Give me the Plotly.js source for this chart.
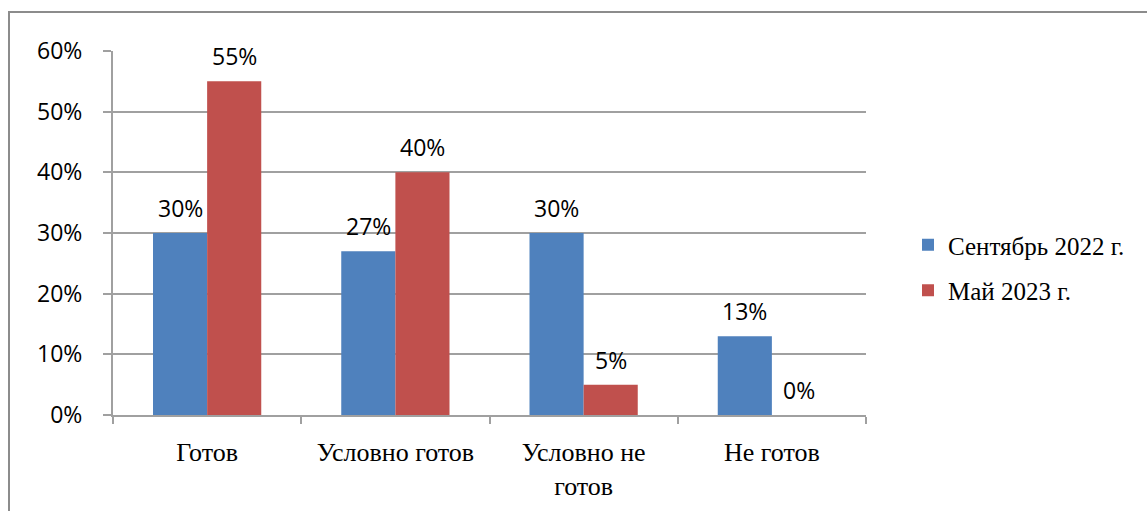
<!DOCTYPE html>
<html>
<head>
<meta charset="utf-8">
<script src="https://cdn.plot.ly/plotly-3.0.1.min.js"></script>
<style>html,body{margin:0;padding:0;background:#fff;}#chart{width:1147px;height:511px;}</style>
</head>
<body>
<div id="chart"></div>
<script>
var categories = ['Готов', 'Условно готов', 'Условно не<br>готов', 'Не готов'];
var seriesNames = ['Сентябрь 2022 г.', 'Май 2023 г.'];
var sept2022 = [0.30, 0.27, 0.30, 0.13];
var may2023 = [0.55, 0.40, 0.05, 0.00];
var yTickVals = [0, 0.1, 0.2, 0.3, 0.4, 0.5, 0.6];
var yTickText = ['0%', '10%', '20%', '30%', '40%', '50%', '60%'];
var colors = ['#4f81bd', '#c0504d'];

var W = 1147, H = 511;
var M = {l: 113, r: 281, t: 51, b: 96};
var pw = W - M.l - M.r, ph = H - M.t - M.b;
function px2x(p) { return (p - M.l) / pw; }
function py2y(p) { return (H - M.b - p) / ph; }

var seriesData = [sept2022, may2023];
var traces = seriesData.map(function (vals, i) {
  return {
    type: 'bar',
    name: seriesNames[i],
    x: categories,
    y: vals,
    marker: {color: colors[i]},
    legendgroup: 'g' + i,
    hoverinfo: 'skip'
  };
});

var annotations = [];
seriesData.forEach(function (vals, i) {
  vals.forEach(function (v, j) {
    annotations.push({
      x: categories[j], y: v, xref: 'x', yref: 'y',
      text: Math.round(v * 100) + '%',
      showarrow: false,
      xshift: i === 0 ? -27 : 27,
      yshift: 25,
      yanchor: 'middle',
      font: {family: 'Open Sans, sans-serif', size: 23, color: '#000'}
    });
  });
});

var layout = {
  width: W, height: H,
  margin: M,
  paper_bgcolor: '#fff', plot_bgcolor: '#fff',
  barmode: 'group', bargap: 0.425, bargroupgap: 0,
  showlegend: true,
  legend: {
    x: px2x(908), y: py2y(222), xanchor: 'left', yanchor: 'top',
    traceorder: 'grouped', tracegroupgap: 10,
    font: {family: 'Liberation Serif, serif', size: 25, color: '#000'},
    bgcolor: 'rgba(0,0,0,0)'
  },
  xaxis: {
    type: 'category',
    showgrid: false, zeroline: false,
    showline: true, linecolor: '#a0a0a0', linewidth: 2,
    ticks: 'outside', tickson: 'boundaries', ticklen: 7, tickcolor: '#a0a0a0', tickwidth: 2,
    ticklabelstandoff: 13,
    tickfont: {family: 'Liberation Serif, serif', size: 26, color: '#000'},
    fixedrange: true
  },
  yaxis: {
    range: [0, 0.6],
    tickvals: yTickVals, ticktext: yTickText,
    showgrid: true, gridcolor: '#a0a0a0', gridwidth: 2,
    zeroline: false,
    showline: true, linecolor: '#a0a0a0', linewidth: 2,
    ticks: 'outside', ticklen: 8, tickcolor: '#a0a0a0', tickwidth: 2,
    ticklabelstandoff: 16,
    tickfont: {family: 'Open Sans, sans-serif', size: 23, color: '#000'},
    fixedrange: true
  },
  shapes: [{
    type: 'rect', xref: 'paper', yref: 'paper',
    x0: px2x(9), x1: px2x(1200), y0: py2y(560), y1: py2y(12),
    line: {color: '#8c8c8c', width: 2}, fillcolor: 'rgba(0,0,0,0)', layer: 'below'
  }],
  annotations: annotations
};

Plotly.newPlot('chart', traces, layout, {displayModeBar: false, staticPlot: true});
</script>
</body>
</html>
